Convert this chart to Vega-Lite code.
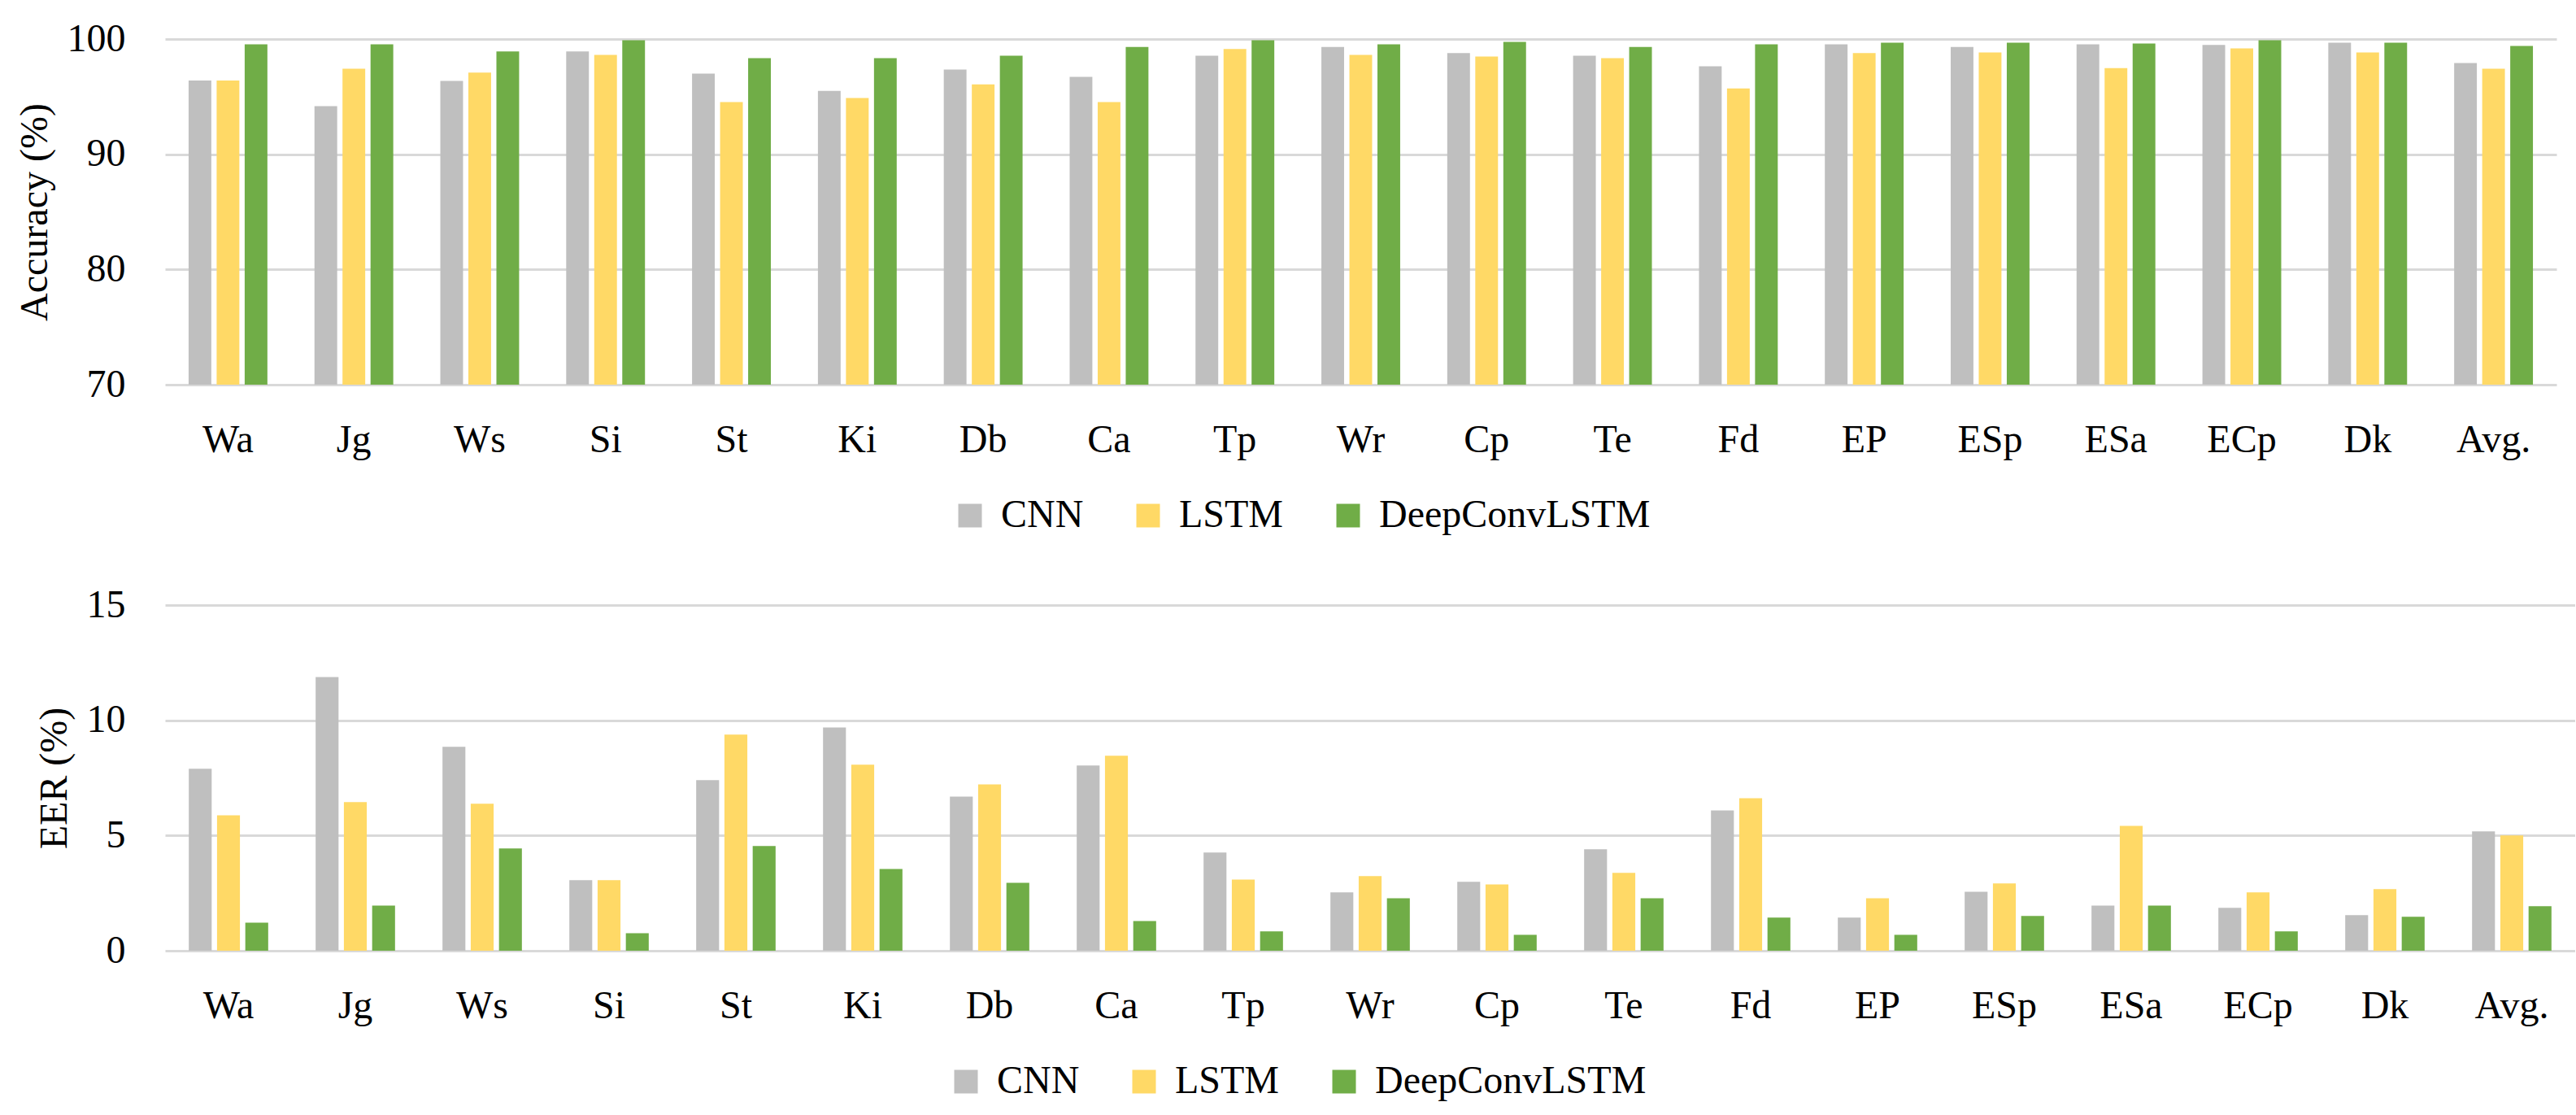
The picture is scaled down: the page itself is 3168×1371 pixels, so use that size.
{
  "$schema": "https://vega.github.io/schema/vega-lite/v6.json",
  "background": "white",
  "padding": {"left": 19, "top": 24, "right": 0, "bottom": 0},
  "config": {
    "view": {"stroke": null},
    "font": "Liberation Serif",
    "axis": {
      "labelFont": "Liberation Serif",
      "titleFont": "Liberation Serif",
      "labelFontSize": 48,
      "titleFontSize": 48,
      "titleFontWeight": "normal",
      "labelColor": "black",
      "titleColor": "black",
      "gridColor": "#D9D9D9",
      "gridWidth": 3
    },
    "legend": {"labelFont": "Liberation Serif", "labelLimit": 0}
  },
  "datasets": {
    "results": [
      {"cat": "Wa", "model": "CNN", "acc": 96.4, "eer": 7.9},
      {"cat": "Wa", "model": "LSTM", "acc": 96.4, "eer": 5.88},
      {"cat": "Wa", "model": "DeepConvLSTM", "acc": 99.54, "eer": 1.22},
      {"cat": "Jg", "model": "CNN", "acc": 94.18, "eer": 11.88},
      {"cat": "Jg", "model": "LSTM", "acc": 97.43, "eer": 6.45},
      {"cat": "Jg", "model": "DeepConvLSTM", "acc": 99.54, "eer": 1.96},
      {"cat": "Ws", "model": "CNN", "acc": 96.37, "eer": 8.85},
      {"cat": "Ws", "model": "LSTM", "acc": 97.08, "eer": 6.38},
      {"cat": "Ws", "model": "DeepConvLSTM", "acc": 98.92, "eer": 4.44},
      {"cat": "Si", "model": "CNN", "acc": 98.92, "eer": 3.06},
      {"cat": "Si", "model": "LSTM", "acc": 98.62, "eer": 3.06},
      {"cat": "Si", "model": "DeepConvLSTM", "acc": 99.9, "eer": 0.76},
      {"cat": "St", "model": "CNN", "acc": 97.0, "eer": 7.4},
      {"cat": "St", "model": "LSTM", "acc": 94.53, "eer": 9.38},
      {"cat": "St", "model": "DeepConvLSTM", "acc": 98.35, "eer": 4.54},
      {"cat": "Ki", "model": "CNN", "acc": 95.5, "eer": 9.69},
      {"cat": "Ki", "model": "LSTM", "acc": 94.88, "eer": 8.07},
      {"cat": "Ki", "model": "DeepConvLSTM", "acc": 98.35, "eer": 3.55},
      {"cat": "Db", "model": "CNN", "acc": 97.35, "eer": 6.69},
      {"cat": "Db", "model": "LSTM", "acc": 96.07, "eer": 7.22},
      {"cat": "Db", "model": "DeepConvLSTM", "acc": 98.56, "eer": 2.95},
      {"cat": "Ca", "model": "CNN", "acc": 96.72, "eer": 8.04},
      {"cat": "Ca", "model": "LSTM", "acc": 94.53, "eer": 8.46},
      {"cat": "Ca", "model": "DeepConvLSTM", "acc": 99.32, "eer": 1.29},
      {"cat": "Tp", "model": "CNN", "acc": 98.56, "eer": 4.26},
      {"cat": "Tp", "model": "LSTM", "acc": 99.13, "eer": 3.09},
      {"cat": "Tp", "model": "DeepConvLSTM", "acc": 99.9, "eer": 0.84},
      {"cat": "Wr", "model": "CNN", "acc": 99.32, "eer": 2.53},
      {"cat": "Wr", "model": "LSTM", "acc": 98.62, "eer": 3.24},
      {"cat": "Wr", "model": "DeepConvLSTM", "acc": 99.54, "eer": 2.28},
      {"cat": "Cp", "model": "CNN", "acc": 98.78, "eer": 2.99},
      {"cat": "Cp", "model": "LSTM", "acc": 98.48, "eer": 2.88},
      {"cat": "Cp", "model": "DeepConvLSTM", "acc": 99.76, "eer": 0.69},
      {"cat": "Te", "model": "CNN", "acc": 98.56, "eer": 4.4},
      {"cat": "Te", "model": "LSTM", "acc": 98.35, "eer": 3.38},
      {"cat": "Te", "model": "DeepConvLSTM", "acc": 99.32, "eer": 2.28},
      {"cat": "Fd", "model": "CNN", "acc": 97.64, "eer": 6.09},
      {"cat": "Fd", "model": "LSTM", "acc": 95.72, "eer": 6.62},
      {"cat": "Fd", "model": "DeepConvLSTM", "acc": 99.54, "eer": 1.44},
      {"cat": "EP", "model": "CNN", "acc": 99.54, "eer": 1.44},
      {"cat": "EP", "model": "LSTM", "acc": 98.78, "eer": 2.28},
      {"cat": "EP", "model": "DeepConvLSTM", "acc": 99.68, "eer": 0.69},
      {"cat": "ESp", "model": "CNN", "acc": 99.32, "eer": 2.56},
      {"cat": "ESp", "model": "LSTM", "acc": 98.84, "eer": 2.92},
      {"cat": "ESp", "model": "DeepConvLSTM", "acc": 99.68, "eer": 1.51},
      {"cat": "ESa", "model": "CNN", "acc": 99.54, "eer": 1.96},
      {"cat": "ESa", "model": "LSTM", "acc": 97.48, "eer": 5.42},
      {"cat": "ESa", "model": "DeepConvLSTM", "acc": 99.62, "eer": 1.96},
      {"cat": "ECp", "model": "CNN", "acc": 99.49, "eer": 1.86},
      {"cat": "ECp", "model": "LSTM", "acc": 99.19, "eer": 2.53},
      {"cat": "ECp", "model": "DeepConvLSTM", "acc": 99.9, "eer": 0.84},
      {"cat": "Dk", "model": "CNN", "acc": 99.68, "eer": 1.54},
      {"cat": "Dk", "model": "LSTM", "acc": 98.84, "eer": 2.67},
      {"cat": "Dk", "model": "DeepConvLSTM", "acc": 99.68, "eer": 1.47},
      {"cat": "Avg.", "model": "CNN", "acc": 97.92, "eer": 5.18},
      {"cat": "Avg.", "model": "LSTM", "acc": 97.43, "eer": 5.0},
      {"cat": "Avg.", "model": "DeepConvLSTM", "acc": 99.4, "eer": 1.93}
    ]
  },
  "columns": 1,
  "align": "none",
  "spacing": 62,
  "concat": [
    {
      "data": {"name": "results"},
      "width": 2941,
      "height": 425,
      "mark": {"type": "bar"},
      "encoding": {
        "x": {
          "field": "cat", "type": "nominal",
          "sort": ["Wa","Jg","Ws","Si","St","Ki","Db","Ca","Tp","Wr","Cp","Te","Fd","EP","ESp","ESa","ECp","Dk","Avg."],
          "scale": {"paddingInner": 0.374, "paddingOuter": 0.187},
          "axis": {"title": null, "labelAngle": 0, "domain": false, "ticks": false, "tickSize": 0, "grid": false, "labelPadding": 82, "labelBaseline": "alphabetic"}
        },
        "xOffset": {"field": "model", "type": "nominal", "sort": ["CNN","LSTM","DeepConvLSTM"], "scale": {"paddingInner": 0.19, "paddingOuter": 0}},
        "y": {
          "field": "acc", "type": "quantitative",
          "scale": {"domain": [70, 100], "zero": false, "nice": false},
          "axis": {"title": "Accuracy (%)", "values": [70, 80, 90, 100], "domain": false, "ticks": false, "tickSize": 0, "labelPadding": 49, "titlePadding": 15}
        },
        "y2": {"datum": 70},
        "color": {
          "field": "model", "type": "nominal",
          "scale": {"domain": ["CNN","LSTM","DeepConvLSTM"], "range": ["#BFBFBF","#FFD966","#70AD47"]},
          "legend": {"title": null, "orient": "none", "legendX": 966, "legendY": 562, "direction": "horizontal", "symbolType": "square", "symbolSize": 841, "symbolStrokeWidth": 0, "symbolOpacity": 1, "labelFontSize": 48, "labelFont": "Liberation Serif", "labelColor": "black", "labelLimit": 0, "labelOffset": 14, "columnPadding": 55, "padding": 0}
        }
      }
    },
    {
      "data": {"name": "results"},
      "width": 2964,
      "height": 425,
      "mark": {"type": "bar"},
      "encoding": {
        "x": {
          "field": "cat", "type": "nominal",
          "sort": ["Wa","Jg","Ws","Si","St","Ki","Db","Ca","Tp","Wr","Cp","Te","Fd","EP","ESp","ESa","ECp","Dk","Avg."],
          "scale": {"paddingInner": 0.374, "paddingOuter": 0.187},
          "axis": {"title": null, "labelAngle": 0, "domain": false, "ticks": false, "tickSize": 0, "grid": false, "labelPadding": 82, "labelBaseline": "alphabetic"}
        },
        "xOffset": {"field": "model", "type": "nominal", "sort": ["CNN","LSTM","DeepConvLSTM"], "scale": {"paddingInner": 0.19, "paddingOuter": 0}},
        "y": {
          "field": "eer", "type": "quantitative",
          "scale": {"domain": [0, 15], "nice": false},
          "axis": {"title": "EER (%)", "values": [0, 5, 10, 15], "domain": false, "ticks": false, "tickSize": 0, "labelPadding": 49, "titlePadding": 15}
        },
        "color": {
          "field": "model", "type": "nominal",
          "scale": {"domain": ["CNN","LSTM","DeepConvLSTM"], "range": ["#BFBFBF","#FFD966","#70AD47"]},
          "legend": {"title": null, "orient": "none", "legendX": 961, "legendY": 562, "direction": "horizontal", "symbolType": "square", "symbolSize": 841, "symbolStrokeWidth": 0, "symbolOpacity": 1, "labelFontSize": 48, "labelFont": "Liberation Serif", "labelColor": "black", "labelLimit": 0, "labelOffset": 14, "columnPadding": 55, "padding": 0}
        }
      }
    }
  ],
  "resolve": {
    "scale": {"color": "independent", "x": "independent", "xOffset": "independent", "y": "independent"},
    "legend": {"color": "independent"}
  }
}
